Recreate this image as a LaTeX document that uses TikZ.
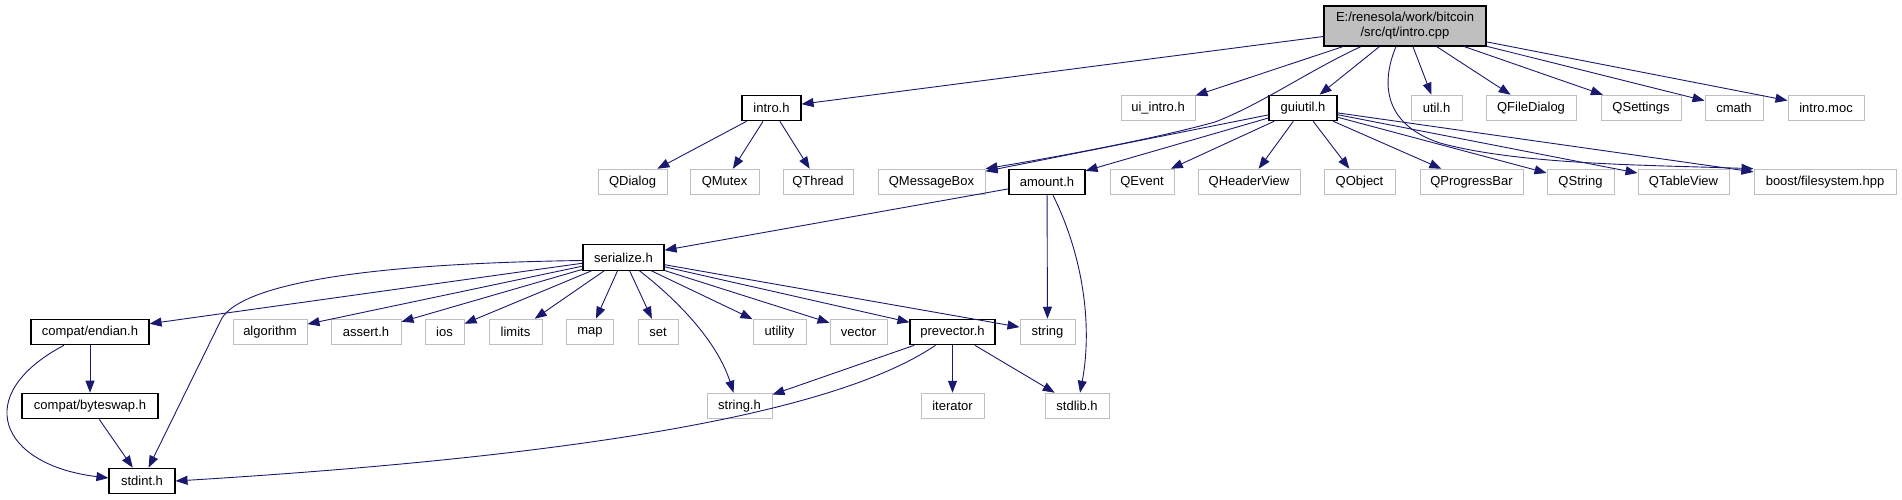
\documentclass[tikz,border=0pt]{standalone}
\usepackage{fontspec}
\setmainfont{Liberation Sans}
\usepackage{tikz}
\usetikzlibrary{arrows.meta,positioning}
\definecolor{edgeblue}{HTML}{191970}
\definecolor{extgray}{HTML}{BFBFBF}
\newcommand{\graphfont}{\fontsize{13}{15}\selectfont}

\begin{document}
\begin{tikzpicture}[
  x=1pt, y=-1pt,
  file/.style={draw=black, line width=1.1pt, fill=white, minimum height=25.5pt,
    inner xsep=4pt, inner ysep=0pt, font=\graphfont},
  ext/.style={file, draw=extgray, line width=1pt},
  rootfile/.style={file, fill=extgray, align=center, minimum height=40pt},
  edge/.style={-{Triangle[length=12pt, width=9pt]}, draw=edgeblue, line width=0.9pt},
]
  \useasboundingbox (0,0) rectangle (1902,500);

  % Root file
  \node[rootfile, minimum width=162pt] (root) at (1405,26) {E:/renesola/work/bitcoin\\/src/qt/intro.cpp};

  % First level includes
  \node[file, minimum width=59pt] (introh) at (771.5,108) {intro.h};
  \node[ext, minimum width=74pt] (uiintro) at (1158,108) {ui\_intro.h};
  \node[file, minimum width=68pt] (guiutil) at (1303,108) {guiutil.h};
  \node[ext, minimum width=51pt] (utilh) at (1436.5,108) {util.h};
  \node[ext, minimum width=90pt] (qfiledialog) at (1531,108) {QFileDialog};
  \node[ext, minimum width=80pt] (qsettings) at (1641,108) {QSettings};
  \node[ext, minimum width=58pt] (cmath) at (1734,108) {cmath};
  \node[ext, minimum width=76pt] (intromoc) at (1826,108) {intro.moc};

  % Second level includes
  \node[ext, minimum width=69pt] (qdialog) at (632.5,182) {QDialog};
  \node[ext, minimum width=69pt] (qmutex) at (724.5,182) {QMutex};
  \node[ext, minimum width=70pt] (qthread) at (818,182) {QThread};
  \node[ext, minimum width=107pt] (qmessagebox) at (931.5,182) {QMessageBox};
  \node[file, minimum width=76pt] (amount) at (1047,182) {amount.h};
  \node[ext, minimum width=64pt] (qevent) at (1142,182) {QEvent};
  \node[ext, minimum width=102pt] (qheaderview) at (1249,182) {QHeaderView};
  \node[ext, minimum width=71pt] (qobject) at (1359.5,182) {QObject};
  \node[ext, minimum width=103pt] (qprogressbar) at (1471.5,182) {QProgressBar};
  \node[ext, minimum width=67pt] (qstring) at (1580.5,182) {QString};
  \node[ext, minimum width=91pt] (qtableview) at (1683.5,182) {QTableView};
  \node[ext, minimum width=142pt] (boostfs) at (1825,182) {boost/filesystem.hpp};

  % serialize.h and its includes
  \node[file, minimum width=81pt] (serialize) at (623.5,257.5) {serialize.h};

  \node[file, minimum width=118pt] (endian) at (90,332) {compat/endian.h};
  \node[ext, minimum width=74pt] (algorithm) at (270,332) {algorithm};
  \node[ext, minimum width=70pt] (asserth) at (366,332) {assert.h};
  \node[ext, minimum width=39pt] (ios) at (444.5,332) {ios};
  \node[ext, minimum width=53pt] (limits) at (515.5,332) {limits};
  \node[ext, minimum width=47pt] (map) at (590,332) {map};
  \node[ext, minimum width=40pt] (set) at (658,332) {set};
  \node[ext, minimum width=53pt] (utility) at (779.5,332) {utility};
  \node[ext, minimum width=57pt] (vector) at (858.5,332) {vector};
  \node[file, minimum width=85pt] (prevector) at (952.5,332) {prevector.h};
  \node[ext, minimum width=55pt] (string) at (1047.5,332) {string};

  \node[file, minimum width=136pt] (byteswap) at (90,406) {compat/byteswap.h};
  \node[ext, minimum width=65pt] (stringh) at (739.5,406) {string.h};
  \node[ext, minimum width=63pt] (iterator) at (952.5,406) {iterator};
  \node[ext, minimum width=64pt] (stdlib) at (1077,406) {stdlib.h};

  \node[file, minimum width=66pt] (stdint) at (142,481) {stdint.h};

  % Edges from the root
  \draw[edge] (root) -- (introh);
  \draw[edge] (root) -- (uiintro);
  \draw[edge] (root) -- (guiutil);
  \draw[edge] ([xshift=-44pt]root.south) .. controls (1310,70) and (1260,105) .. (1215,122)
    .. controls (1150,140) and (1050,158) .. (qmessagebox.north east);
  \draw[edge] (root) -- (utilh);
  \draw[edge] (root) -- (qfiledialog);
  \draw[edge] (root) -- (qsettings);
  \draw[edge] (root) -- (cmath);
  \draw[edge] (root) -- (intromoc);
  \draw[edge] ([xshift=-9pt]root.south) .. controls (1380,85) and (1385,125) .. (1440,143)
    .. controls (1520,165) and (1650,165) .. (boostfs.north west);

  % Edges from intro.h
  \draw[edge] (introh) -- (qdialog);
  \draw[edge] (introh) -- (qmutex);
  \draw[edge] (introh) -- (qthread);

  % Edges from guiutil.h
  \draw[edge] (guiutil) -- (qmessagebox);
  \draw[edge] (guiutil) -- (amount);
  \draw[edge] (guiutil) -- (qevent);
  \draw[edge] (guiutil) -- (qheaderview);
  \draw[edge] (guiutil) -- (qobject);
  \draw[edge] (guiutil) -- (qprogressbar);
  \draw[edge] (guiutil) -- (qstring);
  \draw[edge] (guiutil) -- (qtableview);
  \draw[edge] (guiutil) -- (boostfs);

  % Edges from amount.h
  \draw[edge] (amount) -- (serialize);
  \draw[edge] (amount) -- (string);
  \draw[edge] ([xshift=6pt]amount.south) .. controls (1085,260) and (1092,330) .. ([xshift=3pt]stdlib.north);

  % Edges from serialize.h
  \draw[edge] (serialize) -- (endian);
  \draw[edge] (serialize) -- (algorithm);
  \draw[edge] (serialize) -- (asserth);
  \draw[edge] (serialize) -- (ios);
  \draw[edge] (serialize) -- (limits);
  \draw[edge] (serialize) -- (map);
  \draw[edge] (serialize) -- (set);
  \draw[edge] ([xshift=16pt]serialize.south) .. controls (690,310) and (720,350) .. ([xshift=-6pt]stringh.north);
  \draw[edge] (serialize) -- (utility);
  \draw[edge] (serialize) -- (vector);
  \draw[edge] (serialize) -- (prevector);
  \draw[edge] (serialize) -- (string);
  \draw[edge] ([yshift=-3pt]serialize.west) .. controls (330,264) and (240,290) .. (222,318) -- (stdint);

  % Edges from compat headers
  \draw[edge] (endian) -- (byteswap);
  \draw[edge] ([xshift=-26pt]endian.south) .. controls (-30,395) and (0,465) .. ([yshift=3pt]stdint.west);
  \draw[edge] (byteswap) -- (stdint);

  % Edges from prevector.h
  \draw[edge] (prevector) -- (stringh);
  \draw[edge] (prevector) -- (iterator);
  \draw[edge] (prevector) -- (stdlib);
  \draw[edge] ([xshift=-17pt]prevector.south) .. controls (840,410) and (600,455) .. (stdint.east);
\end{tikzpicture}
\end{document}
